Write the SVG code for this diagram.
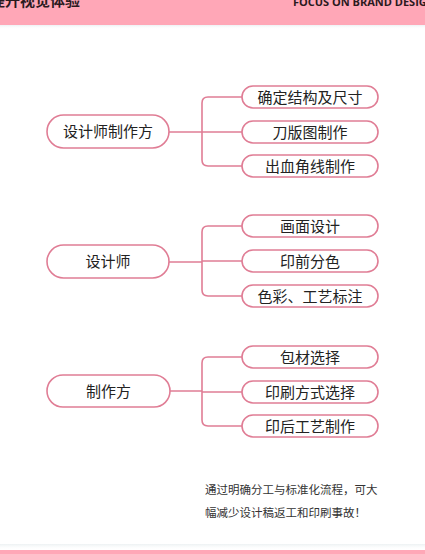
<svg xmlns="http://www.w3.org/2000/svg" width="425" height="554" viewBox="0 0 425 554">
<defs>
<style>
.band{fill:#ffa7b7}
.main rect{fill:#fff;stroke:#e07d95;stroke-width:1.6}
.child rect{fill:#fff;stroke:#e07d95;stroke-width:1.6}
.conn path{fill:none;stroke:#e07d95;stroke-width:1.6}
text{font-family:"Noto Sans CJK SC","Noto Sans",sans-serif;fill:#222;text-anchor:middle}
.mt{font-size:15px}
.ct{font-size:15px}
.note{font-size:11.5px;fill:#333;text-anchor:start}
.hd{font-weight:bold;fill:#2a1a1e}
</style>
<linearGradient id="sh" x1="0" y1="0" x2="0" y2="1">
<stop offset="0" stop-color="#e8eef0" stop-opacity="0.8"/>
<stop offset="1" stop-color="#ffffff" stop-opacity="0"/>
</linearGradient>
</defs>
<rect width="425" height="554" fill="#fff"/>
<g id="header">
<rect class="band" x="0" y="0" width="425" height="25"/>
<rect x="0" y="25" width="425" height="4" fill="url(#sh)"/>
<text class="hd" x="-10" y="6" style="font-size:15px;text-anchor:start">提升视觉体验</text>
<text class="hd" x="293" y="6" style="font-size:11px;text-anchor:start;font-family:'Open Sans','DejaVu Sans',sans-serif">FOCUS ON BRAND DESIGN</text>
</g>
<g id="footer">
<rect x="0" y="544" width="425" height="6" fill="url(#sh)"/>
<rect class="band" x="0" y="550" width="425" height="4"/>
</g>
<g id="connectors" class="conn">
<path d="M169 132H202M242 97H208Q202 97 202 103V160Q202 166 208 166H242M202 132H242"/>
<path d="M169 262H202M242 226H208Q202 226 202 232V290Q202 296 208 296H242M202 261H242"/>
<path d="M170 391H202M242 357H208Q202 357 202 363V420Q202 426 208 426H242M202 392H242"/>
</g>
<g id="n1" class="main"><rect x="47" y="115" width="122" height="33" rx="16.5"/><text class="mt" x="108" y="137">设计师制作方</text></g>
<g id="n1a" class="child"><rect x="242" y="86" width="136" height="22" rx="11"/><text class="ct" x="310" y="102.5">确定结构及尺寸</text></g>
<g id="n1b" class="child"><rect x="242" y="121" width="136" height="22" rx="11"/><text class="ct" x="310" y="137.5">刀版图制作</text></g>
<g id="n1c" class="child"><rect x="242" y="155" width="136" height="22" rx="11"/><text class="ct" x="310" y="171.5">出血角线制作</text></g>
<g id="n2" class="main"><rect x="47" y="245" width="122" height="33" rx="16.5"/><text class="mt" x="108" y="267">设计师</text></g>
<g id="n2a" class="child"><rect x="242" y="215" width="136" height="22" rx="11"/><text class="ct" x="310" y="231.5">画面设计</text></g>
<g id="n2b" class="child"><rect x="242" y="250" width="136" height="22" rx="11"/><text class="ct" x="310" y="266.5">印前分色</text></g>
<g id="n2c" class="child"><rect x="242" y="285" width="136" height="22" rx="11"/><text class="ct" x="310" y="301.5">色彩、工艺标注</text></g>
<g id="n3" class="main"><rect x="47" y="375" width="123" height="32" rx="16"/><text class="mt" x="108.5" y="396.5">制作方</text></g>
<g id="n3a" class="child"><rect x="242" y="346" width="136" height="22" rx="11"/><text class="ct" x="310" y="362.5">包材选择</text></g>
<g id="n3b" class="child"><rect x="242" y="381" width="136" height="22" rx="11"/><text class="ct" x="310" y="397.5">印刷方式选择</text></g>
<g id="n3c" class="child"><rect x="242" y="415" width="136" height="22" rx="11"/><text class="ct" x="310" y="431.5">印后工艺制作</text></g>
<g id="note">
<text class="note" x="205" y="494">通过明确分工与标准化流程，可大</text>
<text class="note" x="205" y="517">幅减少设计稿返工和印刷事故！</text>
</g>
</svg>
